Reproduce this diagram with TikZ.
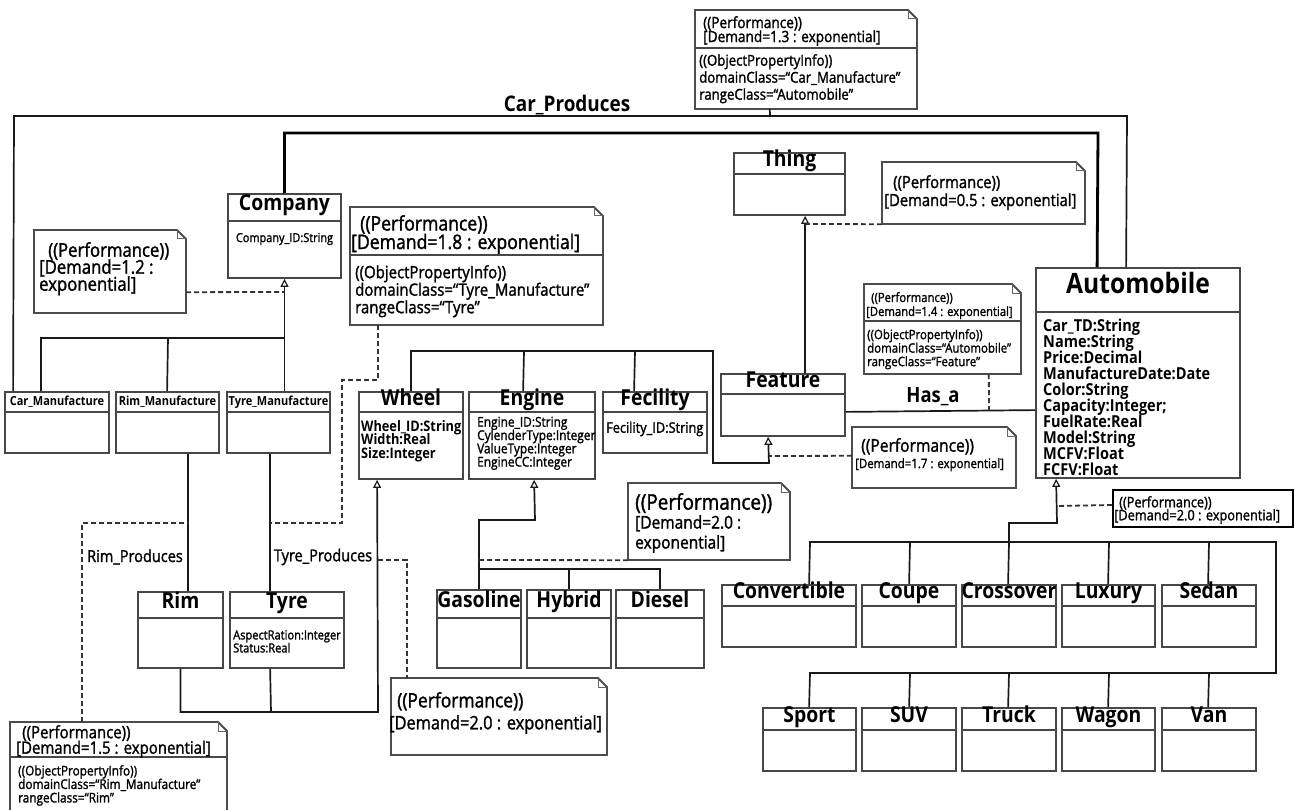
\documentclass[tikz,border=0pt]{standalone}
\usepackage{fontspec}
\setmainfont[FakeStretch=0.88]{Open Sans}
\newfontfamily\mfam[FakeStretch=0.88,FakeBold=1.5]{Open Sans}
\usetikzlibrary{arrows.meta,fit,calc}
\newcommand\fs[2]{\fontsize{#1}{#2}\selectfont\lineskiplimit=-30pt\relax}
\tikzset{
 cls/.style={draw=black!72, line width=1.8pt, inner sep=0pt, fill=white},
 div/.style={draw=black!72, line width=1.8pt},
 ctitle/.style={inner sep=0pt, text height=1.45ex, text depth=0.3ex},
 link/.style={draw=black!90, line width=1.7pt},
 heavylink/.style={draw=black, line width=2.8pt},
 dline/.style={draw=black!80, line width=1.8pt, dash pattern=on 5pt off 3pt},
 inh/.style={-{Triangle[open, length=8pt, width=8pt, line width=1.2pt]}},
 notebox/.style={draw=black!70, line width=1.8pt, fill=white},
 notefold/.style={draw=black!60, line width=1pt},
 ntext/.style={inner sep=0pt, anchor=north west, align=left},
 lbl/.style={inner sep=0pt},
}
\newcommand\umlclass[8]{%
  \node[cls, fit={(#2,#3)(#4,#5)}] (#1) {};
  \draw[div] (#2,#6) -- (#4,#6);
  \node[ctitle, font={#7}] (#1t) at ({(#2+#4)/2},{(#3+#6)/2}) {#8};
}
\newcommand\umlnote[5]{%
  \node[inner sep=0pt, fit={(#2,#3)(#4,#5)}] (#1) {};
  \draw[notebox] (#2,#3) -- ({#4-9},#3) -- (#4,{#3+9}) -- (#4,#5) -- (#2,#5) -- cycle;
  \draw[notefold] ({#4-9},#3) -- ({#4-9},{#3+9}) -- (#4,{#3+9});
}
\begin{document}
\begin{tikzpicture}[x=1pt,y=-1pt]
\useasboundingbox (0,0) rectangle (1295,810);
\def\tf{\bfseries\fs{22}{24}}
\def\mf{\bfseries\fs{12.5}{14}}
% ---------- classes ----------
\umlclass{company}{228}{194}{341}{278}{221}{\tf}{Company}
\node[lbl, font=\mfam\fs{12.4}{14}] (companya) at (284.5,239) {Company\_ID:String};
\umlclass{thing}{734}{153}{845}{215}{174}{\tf}{Thing}
\umlclass{automobile}{1036}{268}{1240}{478}{312}{\bfseries\fs{28}{30}}{Automobile}
\node[ntext, font=\bfseries\fs{16.5}{16}] (autoa) at (1043,318.5) {Car\_TD:String\\Name:String\\Price:Decimal\\ManufactureDate:Date\\Color:String\\Capacity:Integer;\\FuelRate:Real\\Model:String\\MCFV:Float\\FCFV:Float};
\umlclass{feature}{721}{374}{845}{436}{394}{\tf}{Feature}
\umlclass{carm}{5}{392}{109}{453}{412}{\mf}{Car\_Manufacture}
\umlclass{rimm}{116}{392}{219}{453}{412}{\mf}{Rim\_Manufacture}
\umlclass{tyrem}{227}{392}{330}{453}{412}{\mf}{Tyre\_Manufacture}
\umlclass{wheel}{359}{392}{463}{479}{412}{\tf}{Wheel}
\node[ntext, font=\bfseries\fs{14.5}{13.5}] (wheela) at (361,420) {Wheel\_ID:String\\Width:Real\\Size:Integer};
\umlclass{engine}{469}{392}{595}{479}{412}{\tf}{Engine}
\node[ntext, font=\mfam\fs{13.5}{13.3}] (enginea) at (477,416.6) {Engine\_ID:String\\CylenderType:Integer\\ValueType:Integer\\EngineCC:Integer};
\umlclass{fecility}{603}{392}{707}{453}{412}{\tf}{Fecility}
\node[lbl, anchor=west, font=\mfam\fs{14.5}{16}] (fecilitya) at (606,429) {Fecility\_ID:String};
\umlclass{rim}{138}{592}{223}{668}{618}{\tf}{Rim}
\umlclass{tyre}{230}{592}{344}{668}{618}{\tf}{Tyre}
\node[ntext, font=\mfam\fs{12.6}{13}] (tyrea) at (233,630) {AspectRation:Integer\\Status:Real};
\umlclass{gasoline}{437}{590}{521}{668}{618}{\tf}{Gasoline}
\umlclass{hybrid}{527}{590}{611}{668}{618}{\tf}{Hybrid}
\umlclass{diesel}{616}{590}{704}{668}{618}{\tf}{Diesel}
\umlclass{convertible}{722}{585}{856}{647}{606}{\tf}{Convertible}
\umlclass{coupe}{862}{585}{956}{647}{606}{\tf}{Coupe}
\umlclass{crossover}{962}{585}{1056}{647}{606}{\tf}{Crossover}
\umlclass{luxury}{1062}{585}{1155}{647}{606}{\tf}{Luxury}
\umlclass{sedan}{1162}{585}{1256}{647}{606}{\tf}{Sedan}
\umlclass{sport}{763}{708}{856}{771}{730}{\tf}{Sport}
\umlclass{suv}{862}{708}{956}{771}{730}{\tf}{SUV}
\umlclass{truck}{962}{708}{1056}{771}{730}{\tf}{Truck}
\umlclass{wagon}{1062}{708}{1155}{771}{730}{\tf}{Wagon}
\umlclass{van}{1162}{708}{1256}{771}{730}{\tf}{Van}
% ---------- notes ----------
\umlnote{n12}{34}{230}{186}{313}
\node[ntext, font=\mfam\fs{19}{17}] (n12t) at (39,242) {\hspace*{9pt}((Performance))\\{[}Demand=1.2 :\\exponential]};
\umlnote{n18}{350}{207}{603}{325}
\draw[div] (350,255) -- (603,255);
\node[ntext, font=\mfam\fs{20}{18.5}] (n18t) at (351,215) {\hspace*{9pt}((Performance))\\{[}Demand=1.8 : exponential]};
\node[ntext, font=\mfam\fs{17}{17.5}] (n18b) at (355,265) {((ObjectPropertyInfo))\\domainClass=“Tyre\_Manufacture”\\rangeClass=“Tyre”};
\umlnote{n13}{695}{10}{917}{109}
\draw[div] (695,48) -- (917,48);
\node[ntext, font=\mfam\fs{15.5}{14}] (n13t) at (703,16) {((Performance))\\{[}Demand=1.3 : exponential]};
\node[ntext, font=\mfam\fs{15}{17}] (n13b) at (699,54) {((ObjectPropertyInfo))\\domainClass=“Car\_Manufacture”\\rangeClass=“Automobile”};
\umlnote{n05}{882}{162}{1085}{224}
\node[ntext, font=\mfam\fs{16.8}{18}] (n05t) at (884,175) {\hspace*{9pt}((Performance))\\{[}Demand=0.5 : exponential]};
\umlnote{n14}{864}{284}{1021}{374}
\draw[div] (864,321) -- (1021,321);
\node[ntext, font=\mfam\fs{12.8}{14}] (n14t) at (866,292) {\hspace*{5pt}((Performance))\\{[}Demand=1.4 : exponential]};
\node[ntext, font=\mfam\fs{13}{13.5}] (n14b) at (867,329) {((ObjectPropertyInfo))\\domainClass=“Automobile”\\rangeClass=“Feature”};
\umlnote{n17}{852}{427}{1016}{488}
\node[ntext, font=\mfam\fs{17.7}{18}] (n17t) at (861,438) {((Performance))};
\node[ntext, font=\mfam\fs{13}{14}] (n17b) at (855,458) {{[}Demand=1.7 : exponential]};
\node[draw=black, line width=2pt, fill=white, inner sep=0pt, fit={(1113,490)(1293,527)}] (n20r) {};
\node[ntext, font=\mfam\fs{14.5}{13}] (n20rt) at (1114,496) {\hspace*{5pt}((Performance))\\{[}Demand=2.0 : exponential]};
\umlnote{n20e}{628}{483}{790}{560}
\node[ntext, font=\mfam\fs{21.5}{22}] (n20et) at (635,493) {((Performance))};
\node[ntext, font=\mfam\fs{17.6}{20}] (n20eb) at (635,515) {{[}Demand=2.0 :\\exponential]};
\umlnote{n20t}{391}{678}{607}{755}
\node[ntext, font=\mfam\fs{19.8}{20}] (n20tt) at (397,692) {((Performance))};
\node[ntext, font=\mfam\fs{18.6}{20}] (n20tb) at (389,715) {{[}Demand=2.0 : exponential]};
\umlnote{n15}{10}{722}{227}{815}
\draw[div] (10,757) -- (227,757);
\node[ntext, font=\mfam\fs{17}{15.5}] (n15t) at (16,725) {\hspace*{6pt}((Performance))\\{[}Demand=1.5 : exponential]};
\node[ntext, font=\mfam\fs{13.4}{13.5}] (n15b) at (18,765) {((ObjectPropertyInfo))\\domainClass=“Rim\_Manufacture”\\rangeClass=“Rim”};
% ---------- associations ----------
\draw[link] ($(carm.north west)+(9,0)$) -- (14,116) -- (1127,116) -- ($(automobile.north west)+(91,0)$);
\node[lbl, font=\bfseries\fs{21.5}{24}] (carprod) at (567,105) {Car\_Produces};
\draw[link] ($(n13.south west)+(75,0)$) -- (770,116);
\draw[heavylink] (company.north) -- (284.5,133) -- (1098,133) -- ($(automobile.north west)+(62,0)$);
\draw[link] ($(rimm.south west)+(73,0)$) -- ($(rim.north west)+(51,0)$);
\node[lbl, font=\mfam\fs{16.5}{18}, fill=white, inner sep=1pt] (rimprod) at (135,557) {Rim\_Produces};
\draw[link] ($(tyrem.south west)+(44,0)$) -- ($(tyre.north west)+(41,0)$);
\node[lbl, font=\mfam\fs{16.5}{18}] (tyreprod) at (323,557) {Tyre\_Produces};
\draw[link] ($(feature.south east)+(0,-25)$) -- ($(automobile.north west)+(0,143)$);
\node[lbl, font=\bfseries\fs{21}{24}] (hasa) at (933,397) {Has\_a};
% ---------- generalizations ----------
\draw[link, inh] (tyrem.north -| company.south) -- (company.south);
\draw[link] ($(carm.north west)+(37,0)$) |- (284.5,338);
\draw[link] ($(rimm.north west)+(52,0)$) -- (168,338);
\draw[link, inh] (rim.south) |- (378,712) -- ($(wheel.south west)+(19,0)$);
\draw[link] ($(tyre.south west)+(41,0)$) -- (271,712);
\draw[link, inh] (gasoline.north) -- (479,520) -- (535,520) -- ($(engine.south west)+(66,0)$);
\draw[link] (479,569) -| (diesel.north);
\draw[link] (hybrid.north) -- (569,569);
\draw[link, inh] (wheel.north) |- (713,351) |- (769,463) -- ($(feature.south west)+(48,0)$);
\draw[link] ($(engine.north west)+(55,0)$) -- (524,351);
\draw[link] ($(fecility.north west)+(32,0)$) -- (635,351);
\draw[link, inh] ($(feature.north west)+(85,0)$) -- ($(thing.south west)+(72,0)$);
\draw[link, inh] (1009,542) -- (1009,523) -- (1057,523) -- ($(automobile.south west)+(21,0)$);
\draw[link] ($(convertible.north west)+(88,0)$) -- (810,542) -- (1276,542) -- (1276,673) -- (810,673) -- ($(sport.north west)+(47,0)$);
\draw[link] ($(coupe.north west)+(48,0)$) -- (910,542);
\draw[link] ($(crossover.north west)+(47,0)$) -- (1009,542);
\draw[link] ($(luxury.north west)+(47,0)$) -- (1109,542);
\draw[link] ($(sedan.north west)+(47,0)$) -- (1209,542);
\draw[link] ($(suv.north west)+(48,0)$) -- (910,673);
\draw[link] ($(truck.north west)+(47,0)$) -- (1009,673);
\draw[link] ($(wagon.north west)+(47,0)$) -- (1109,673);
\draw[link] ($(van.north west)+(47,0)$) -- (1209,673);
% ---------- note anchors ----------
\draw[dline] ($(n12.south east)+(0,-21)$) -- (284.5,292);
\draw[dline] ($(n18.south west)+(28,0)$) |- (342,380) |- (271,523);
\draw[dline] ($(n15.north west)+(72,0)$) |- (189,523);
\draw[dline] (378,560) -| ($(n20t.north west)+(16,0)$);
\draw[dline] (479,560) -- (n20e.south west);
\draw[dline] ($(n17.north west)+(0,29)$) -- (769,456);
\draw[dline] (n05.south west) -- (806,224);
\draw[dline] ($(n14.south west)+(125,0)$) -- (989,411);
\draw[dline] ($(n20r.north west)+(0,16)$) -- (1057,506);
\end{tikzpicture}
\end{document}
